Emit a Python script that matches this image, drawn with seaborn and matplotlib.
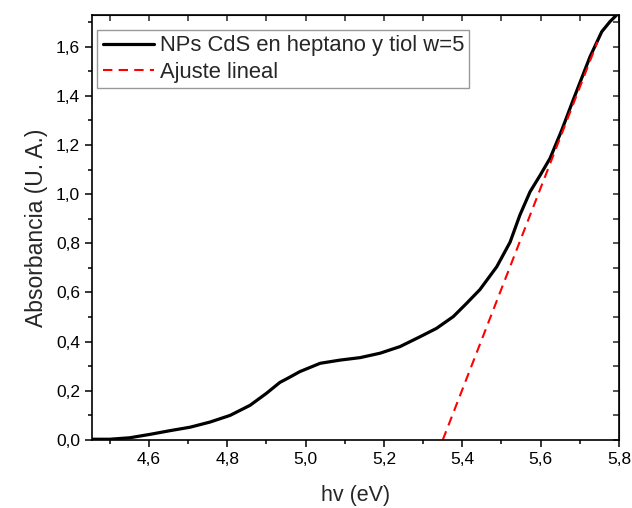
import matplotlib
matplotlib.use("Agg")
import matplotlib.pyplot as plt
import matplotlib.ticker as mticker
import seaborn as sns
import pandas as pd

# Data
energy_ev = [4.449, 4.500, 4.551, 4.603, 4.654, 4.705, 4.756, 4.807, 4.858, 4.900,
             4.934, 4.960, 4.985, 5.037, 5.088, 5.139, 5.190, 5.241, 5.292, 5.334,
             5.377, 5.411, 5.445, 5.488, 5.522, 5.547, 5.573, 5.598, 5.624, 5.654,
             5.683, 5.726, 5.756, 5.777, 5.794]
absorbance = [0.003, 0.003, 0.009, 0.023, 0.038, 0.052, 0.073, 0.100, 0.141, 0.190,
              0.234, 0.256, 0.278, 0.312, 0.325, 0.335, 0.353, 0.380, 0.420, 0.454,
              0.502, 0.556, 0.612, 0.705, 0.805, 0.915, 1.010, 1.075, 1.146, 1.261,
              1.383, 1.559, 1.661, 1.702, 1.729]
fit_x = [5.35, 5.745]
fit_y = [0.0, 1.62]

label_curve = "NPs CdS en heptano y tiol w=5"
label_fit = "Ajuste lineal"

sns.set_style("ticks")
plt.rcParams['font.family'] = ['Liberation Sans', 'DejaVu Sans']

fig = plt.figure(figsize=(6.32, 5.08), dpi=100)
ax = fig.add_axes([0.1456, 0.1339, 0.9794 - 0.1456, 0.9705 - 0.1339])

df_curve = pd.DataFrame({"x": energy_ev, "y": absorbance})
df_fit = pd.DataFrame({"x": fit_x, "y": fit_y})

sns.lineplot(data=df_curve, x="x", y="y", ax=ax, color="black", lw=2.3,
             label=label_curve, sort=False)
sns.lineplot(data=df_fit, x="x", y="y", ax=ax, color="#ff0000", lw=1.5,
             label=label_fit, sort=False)
ax.lines[0].set_solid_joinstyle("round")
ax.lines[1].set_dashes([4.5, 3.0])

ax.set_xlim(4.4545, 5.8)
ax.set_ylim(0, 1.729)
ax.xaxis.set_major_locator(mticker.MultipleLocator(0.2))
ax.xaxis.set_minor_locator(mticker.MultipleLocator(0.1))
ax.yaxis.set_major_locator(mticker.MultipleLocator(0.2))
ax.yaxis.set_minor_locator(mticker.MultipleLocator(0.1))
fmt = mticker.FuncFormatter(lambda v, p: f"{v:.1f}".replace(".", ","))
ax.xaxis.set_major_formatter(fmt)
ax.yaxis.set_major_formatter(fmt)

for s in ax.spines.values():
    s.set_visible(True)
    s.set_linewidth(1.2)
    s.set_color("black")

ax.tick_params(which="both", direction="out", top=False, right=False,
               labelsize=12.5, colors="black", width=1.1)
ax.tick_params(which="major", length=5)
ax.tick_params(which="minor", length=3)

# inward ticks on top and right
axt = ax.secondary_xaxis("top")
axt.xaxis.set_major_locator(mticker.MultipleLocator(0.1))
axt.tick_params(direction="in", length=4, width=1.1, labelsize=0)
axt.set_xticklabels([])
axr = ax.secondary_yaxis("right")
axr.yaxis.set_major_locator(mticker.MultipleLocator(0.1))
axr.tick_params(direction="in", length=4, width=1.1, labelsize=0)
axr.set_yticklabels([])

ax.set_xlabel("hv (eV)", fontsize=15.5, labelpad=13)
ax.set_ylabel("Absorbancia (U. A.)", fontsize=16.5, labelpad=6)

leg = ax.legend(loc="upper left", bbox_to_anchor=(5 / 527, 1 - 15 / 425),
                borderaxespad=0, fontsize=15.8, frameon=True, fancybox=False,
                borderpad=0.25, labelspacing=0.25, handlelength=2.35,
                handletextpad=0.25)
leg.get_frame().set_edgecolor("#808080")
leg.get_frame().set_linewidth(1.0)

fig.savefig("out.png", dpi=100)
